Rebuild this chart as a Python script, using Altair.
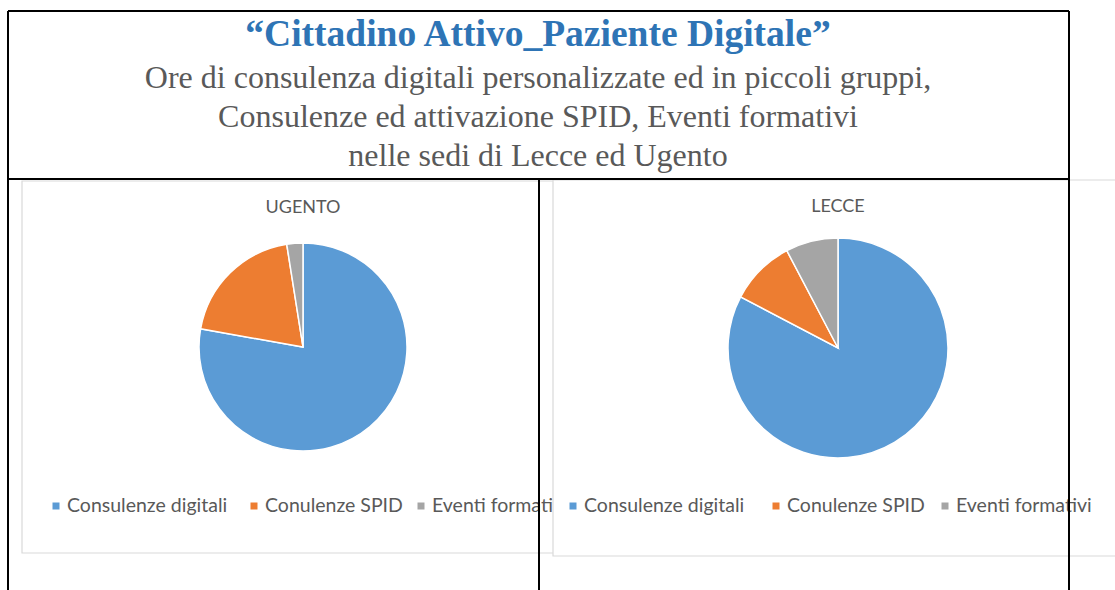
import altair as alt
import pandas as pd

# ---- data -----------------------------------------------------------------
categories = ["Consulenze digitali", "Conulenze SPID", "Eventi formativi"]
colors = ["#5B9BD5", "#ED7D31", "#A5A5A5"]
ugento_values = [77.8, 19.7, 2.5]
lecce_values = [82.7, 9.6, 7.7]

title_text = "\u201cCittadino Attivo_Paziente Digitale\u201d"
subtitle_lines = [
    "Ore di consulenza digitali personalizzate ed in piccoli gruppi,",
    "Consulenze ed attivazione SPID, Eventi formativi",
    "nelle sedi di Lecce ed Ugento",
]
panel_titles = ["UGENTO", "LECCE"]

W, H = 1115, 590
GRAY_TXT = "#595959"
LEGEND_FONT = "Lato"


def pie_df(vals):
    return pd.DataFrame({"cat": categories, "value": vals, "idx": list(range(len(categories)))})


dummy = pd.DataFrame({"k": [0]})
color_scale = alt.Scale(domain=categories, range=colors)


def box(x1, x2, y1, y2, stroke="#D9D9D9"):
    return alt.Chart(dummy).mark_rect(fill="white", stroke=stroke, strokeWidth=1.2).encode(
        x=alt.value(x1), x2=alt.value(x2), y=alt.value(y1), y2=alt.value(y2)
    )


def pie(vals, cx, cy, r):
    return alt.Chart(pie_df(vals)).mark_arc(outerRadius=r, stroke="white", strokeWidth=1.5).encode(
        theta=alt.Theta("value:Q", stack=True),
        color=alt.Color("cat:N", scale=color_scale, legend=None),
        order=alt.Order("idx:Q"),
        x=alt.value(cx),
        y=alt.value(cy),
    )


def panel_title(txt, cx, cy):
    return alt.Chart(pd.DataFrame({"t": [txt]})).mark_text(
        font=LEGEND_FONT, fontSize=18, color=GRAY_TXT, align="center", baseline="middle"
    ).encode(text="t:N", x=alt.value(cx), y=alt.value(cy))


def legend(starts, y):
    layers = []
    base = alt.Chart(pie_df([0, 0, 0]))
    for c, sx in zip(categories, starts):
        f = alt.datum.cat == c
        layers.append(
            base.transform_filter(f).mark_square(size=49, opacity=1).encode(
                x=alt.value(sx - 11), y=alt.value(y),
                color=alt.Color("cat:N", scale=color_scale, legend=None),
            )
        )
        layers.append(
            base.transform_filter(f).mark_text(
                font=LEGEND_FONT, fontSize=19.5, color=GRAY_TXT, align="left", baseline="middle"
            ).encode(text="cat:N", x=alt.value(sx), y=alt.value(y))
        )
    return layers


def rule(x1, x2, y1, y2, color="black", w=2):
    return alt.Chart(dummy).mark_rule(color=color, strokeWidth=w).encode(
        x=alt.value(x1), x2=alt.value(x2), y=alt.value(y1), y2=alt.value(y2)
    )


layers = []
# left panel
layers.append(box(22, 620, 181, 553))
layers.append(pie(ugento_values, 303, 347, 104))
layers.append(panel_title(panel_titles[0], 303, 208))
layers += legend([67, 265, 432], 506)
# right panel
layers.append(box(553, 1125, 180, 556))
layers.append(pie(lecce_values, 838, 348, 110))
layers.append(panel_title(panel_titles[1], 838, 207))
layers += legend([584, 787, 956], 506)

# table borders
layers.append(rule(8, 1069, 11, 11))
layers.append(rule(8, 8, 11, 590))
layers.append(rule(1069, 1069, 11, 590))
layers.append(rule(8, 1069, 179, 179))
layers.append(rule(539, 539, 179, 590))

# header text
layers.append(
    alt.Chart(pd.DataFrame({"t": [title_text]})).mark_text(
        font="Liberation Serif", fontSize=37.5, fontWeight="bold", color="#2E74B5",
        align="center", baseline="alphabetic",
    ).encode(text="t:N", x=alt.value(538), y=alt.value(46))
)
for line, yy in zip(subtitle_lines, [88, 127, 166]):
    layers.append(
        alt.Chart(pd.DataFrame({"t": [line]})).mark_text(
            font="Liberation Serif", fontSize=32, color=GRAY_TXT,
            align="center", baseline="alphabetic",
        ).encode(text="t:N", x=alt.value(538), y=alt.value(yy))
    )

chart = (
    alt.layer(*layers)
    .resolve_scale(theta="independent")
    .properties(width=W, height=H, autosize="none", padding=0, background="white")
    .configure_view(strokeWidth=0)
)

chart.save("out.html", embed_options={"renderer": "svg", "actions": False})
